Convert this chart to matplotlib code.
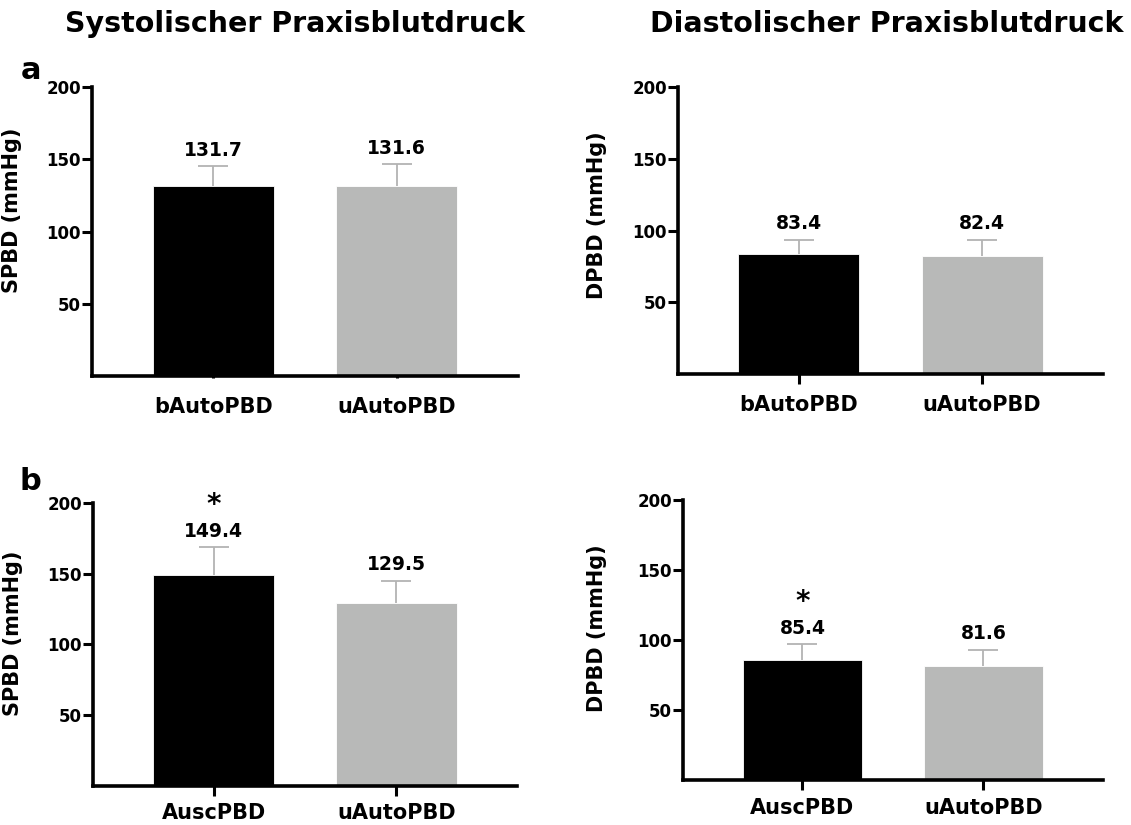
import matplotlib
matplotlib.use("Agg")
import matplotlib.pyplot as plt

# Daten (Mittelwert und Standardabweichung)
labels_a = ["bAutoPBD", "uAutoPBD"]
labels_b = ["AuscPBD", "uAutoPBD"]
sys_a_mean = [131.7, 131.6]
sys_a_sd = [13.4, 15.0]
dia_a_mean = [83.4, 82.4]
dia_a_sd = [10.2, 11.2]
sys_b_mean = [149.4, 129.5]
sys_b_sd = [19.5, 15.6]
dia_b_mean = [85.4, 81.6]
dia_b_sd = [11.7, 11.5]
stern_b = [True, False]  # signifikanter Unterschied

farben = ["#000000", "#b8b9b8"]

plt.rcParams["font.family"] = "DejaVu Sans"
plt.rcParams["font.weight"] = "bold"

fig = plt.figure(figsize=(11.31, 8.25), dpi=100)


def panel(rect, namen, mw, sd, ylab, ylab_pos, xtick_len=7, xpad=17, stern=None):
    ax = fig.add_axes(rect)
    x = range(len(namen))
    ax.bar(x, mw, width=0.66, color=farben, edgecolor="white", linewidth=0.6, zorder=2)
    eb = ax.errorbar(x, mw, yerr=[[0] * len(sd), sd], fmt="none", ecolor="#b3b3b3",
                     elinewidth=1.3, capsize=11, capthick=1.3, zorder=1)
    eb[1][0].set_visible(False)  # nur obere Kappe
    for i in x:
        ax.annotate(f"{mw[i]:.1f}", (i, mw[i] + sd[i]), xytext=(0, 4.5),
                    textcoords="offset points", ha="center", va="bottom",
                    fontsize=13.5, fontweight="bold")
        if stern is not None and stern[i]:
            ax.annotate("*", (i, mw[i] + sd[i]), xytext=(0, 20),
                        textcoords="offset points", ha="center", va="bottom",
                        fontsize=20, fontweight="bold")
    ax.set_xlim(-0.66, 1.66)
    ax.set_ylim(0, 200)
    ax.set_yticks([50, 100, 150, 200])
    ax.set_xticks(list(x))
    ax.set_xticklabels(namen, fontsize=15, fontweight="bold")
    for t in ax.get_yticklabels():
        t.set_fontsize(12)
        t.set_fontweight("bold")
    ax.spines["top"].set_visible(False)
    ax.spines["right"].set_visible(False)
    ax.spines["left"].set_linewidth(2.6)
    ax.spines["bottom"].set_linewidth(2.6)
    ax.tick_params(axis="y", direction="out", length=7, width=2.2, pad=1)
    ax.tick_params(axis="x", direction="out", length=xtick_len, width=2.2,
                   pad=xpad - xtick_len)
    ax.set_ylabel(ylab, fontsize=15, fontweight="bold")
    ax.yaxis.set_label_coords(*ylab_pos)
    return ax


panel([0.0813, 0.5442, 0.3767, 0.3503], labels_a, sys_a_mean, sys_a_sd,
      "SPBD (mmHg)", (-0.164, 0.574), xtick_len=1.5, xpad=15)
panel([0.5995, 0.5467, 0.3757, 0.3478], labels_a, dia_a_mean, dia_a_sd,
      "DPBD (mmHg)", (-0.167, 0.554), xpad=15)
panel([0.0822, 0.0473, 0.3749, 0.3430], labels_b, sys_b_mean, sys_b_sd,
      "SPBD (mmHg)", (-0.164, 0.54), xpad=12, stern=stern_b)
panel([0.6039, 0.0545, 0.3713, 0.3395], labels_b, dia_b_mean, dia_b_sd,
      "DPBD (mmHg)", (-0.181, 0.543), xpad=13, stern=stern_b)

fig.text(0.261, 0.971, "Systolischer Praxisblutdruck", ha="center", va="center",
         fontsize=20.5, fontweight="bold")
fig.text(0.784, 0.971, "Diastolischer Praxisblutdruck", ha="center", va="center",
         fontsize=20.5, fontweight="bold")
fig.text(0.027, 0.915, "a", ha="center", va="center", fontsize=22, fontweight="bold")
fig.text(0.027, 0.416, "b", ha="center", va="center", fontsize=22, fontweight="bold")

fig.savefig("out.png", dpi=100)
